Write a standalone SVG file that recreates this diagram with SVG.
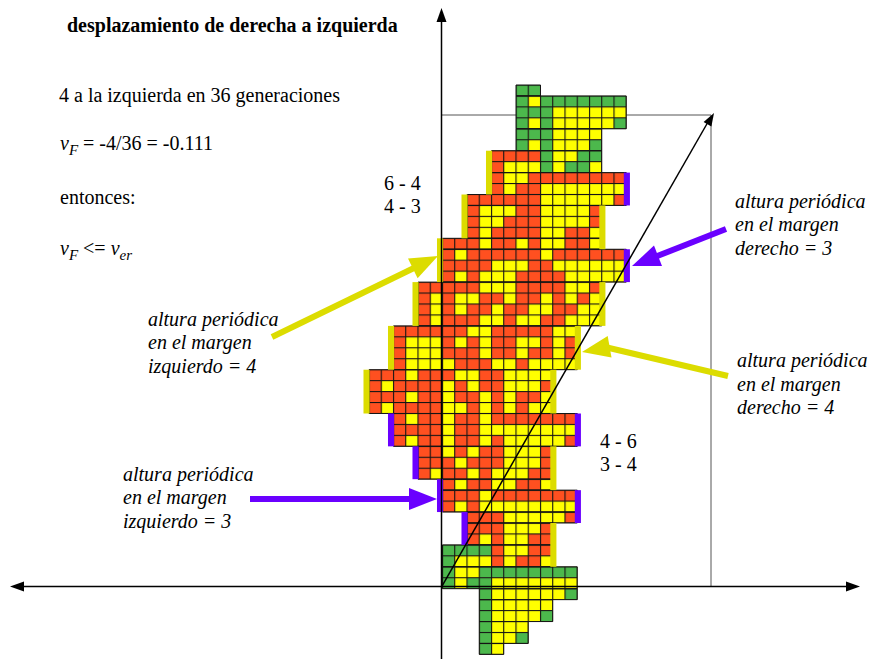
<svg xmlns="http://www.w3.org/2000/svg" xmlns:xlink="http://www.w3.org/1999/xlink" width="871" height="659" viewBox="0 0 871 659">
<style>
.t{font-family:"Liberation Serif","Times New Roman",serif;font-size:20px;fill:#000}
.b{font-weight:bold}
.i{font-style:italic}
.r{fill:#ff5020}
.y{fill:#ffff00}
.g{fill:#4cb84c}
.yb{fill:#dcdc00}
.pb{fill:#6a00ff}
#shape rect{vector-effect:non-scaling-stroke}
.ax{stroke:#000;stroke-width:1.5;fill:none}
</style>
<defs>
<pattern id="gp" patternUnits="userSpaceOnUse" x="-0.045" y="-0.05" width="1" height="1">
<rect width="1" height="0.1" fill="#151515"/><rect width="0.09" height="1" fill="#151515"/>
</pattern>
<g id="shape">
<rect x="6" y="0" width="2" height="1"/>
<rect x="6" y="1" width="9" height="3"/>
<rect x="6" y="4" width="7" height="2"/>
<rect x="4" y="6" width="9" height="2"/>
<rect x="4" y="8" width="11" height="2"/>
<rect x="2" y="10" width="13" height="1"/>
<rect x="2" y="11" width="11" height="3"/>
<rect x="0" y="14" width="13" height="1"/>
<rect x="0" y="15" width="15" height="3"/>
<rect x="-2" y="18" width="15" height="4"/>
<rect x="-4" y="22" width="15" height="4"/>
<rect x="-6" y="26" width="15" height="4"/>
<rect x="-4" y="30" width="15" height="3"/>
<rect x="-2" y="33" width="11" height="3"/>
<rect x="0" y="36" width="9" height="1"/>
<rect x="0" y="37" width="11" height="2"/>
<rect x="2" y="39" width="9" height="1"/>
<rect x="2" y="40" width="7" height="2"/>
<rect x="0" y="42" width="9" height="2"/>
<rect x="0" y="44" width="11" height="2"/>
<rect x="3" y="46" width="8" height="1"/>
<rect x="3" y="47" width="6" height="2"/>
<rect x="3" y="49" width="4" height="2"/>
<rect x="3" y="51" width="2" height="1"/>
</g>
</defs>
<rect width="871" height="659" fill="#fff"/>

<g id="box" fill="none" stroke="#555" stroke-width="1">
<polyline points="441.5,115 711,115 711,586.5"/>
</g>

<g id="cells" transform="translate(442.5 85) scale(12.25 10.95)">
<use xlink:href="#shape" class="r"/>
<g class="g">
<rect x="6" y="0" width="2" height="1"/>
<rect x="6" y="1" width="1" height="5"/>
<rect x="8" y="1" width="1" height="7"/>
<rect x="9" y="1" width="6" height="1"/>
<rect x="7" y="2" width="1" height="1"/>
<rect x="14" y="3" width="1" height="1"/>
<rect x="7" y="4" width="1" height="1"/>
<rect x="12" y="5" width="1" height="1"/>
<rect x="11" y="6" width="2" height="1"/>
<rect x="10" y="7" width="2" height="1"/>
<rect x="0" y="42" width="1" height="4"/>
<rect x="1" y="42" width="3" height="1"/>
<rect x="3" y="44" width="8" height="1"/>
<rect x="2" y="45" width="2" height="1"/>
<rect x="3" y="46" width="1" height="6"/>
<rect x="10" y="46" width="1" height="1"/>
<rect x="8" y="48" width="1" height="1"/>
<rect x="6" y="50" width="1" height="1"/>
</g>
<g class="y">
<rect x="7" y="1" width="1" height="1"/>
<rect x="9" y="2" width="6" height="1"/>
<rect x="7" y="3" width="1" height="1"/><rect x="9" y="3" width="5" height="1"/>
<rect x="9" y="4" width="4" height="1"/>
<rect x="7" y="5" width="1" height="1"/><rect x="9" y="5" width="3" height="1"/>
<rect x="9" y="6" width="2" height="1"/>
<rect x="5" y="7" width="3" height="1"/><rect x="9" y="7" width="1" height="1"/><rect x="12" y="7" width="1" height="1"/>
<rect x="5" y="8" width="2" height="1"/>
<rect x="5" y="9" width="1" height="1"/><rect x="8" y="9" width="7" height="1"/>
<rect x="8" y="10" width="6" height="1"/>
<rect x="3" y="11" width="3" height="1"/><rect x="8" y="11" width="4" height="1"/>
<rect x="3" y="12" width="2" height="1"/><rect x="8" y="12" width="4" height="1"/>
<rect x="3" y="13" width="1" height="1"/><rect x="8" y="13" width="2" height="1"/><rect x="12" y="13" width="1" height="1"/>
<rect x="3" y="14" width="1" height="1"/><rect x="6" y="14" width="1" height="1"/><rect x="8" y="14" width="2" height="1"/><rect x="12" y="14" width="1" height="1"/>
<rect x="1" y="15" width="1" height="1"/><rect x="8" y="15" width="1" height="1"/>
<rect x="4" y="16" width="3" height="1"/><rect x="9" y="16" width="6" height="1"/>
<rect x="1" y="17" width="1" height="1"/><rect x="3" y="17" width="3" height="1"/><rect x="10" y="17" width="5" height="1"/>
<rect x="3" y="18" width="3" height="1"/><rect x="10" y="18" width="2" height="1"/>
<rect x="-1" y="19" width="1" height="3"/><rect x="1" y="19" width="2" height="1"/><rect x="5" y="19" width="1" height="1"/><rect x="8" y="19" width="1" height="1"/><rect x="10" y="19" width="1" height="1"/><rect x="12" y="19" width="1" height="1"/>
<rect x="1" y="20" width="1" height="1"/><rect x="4" y="20" width="1" height="1"/><rect x="7" y="20" width="2" height="1"/><rect x="11" y="20" width="2" height="1"/>
<rect x="3" y="21" width="2" height="1"/><rect x="6" y="21" width="2" height="1"/><rect x="10" y="21" width="3" height="1"/>
<rect x="2" y="22" width="2" height="1"/><rect x="9" y="22" width="2" height="1"/>
<rect x="-3" y="23" width="3" height="2"/><rect x="1" y="23" width="1" height="1"/><rect x="3" y="23" width="1" height="2"/><rect x="6" y="23" width="2" height="1"/><rect x="9" y="23" width="1" height="2"/>
<rect x="6" y="24" width="1" height="1"/>
<rect x="-3" y="25" width="4" height="1"/><rect x="4" y="25" width="2" height="1"/><rect x="7" y="25" width="4" height="1"/>
<rect x="-3" y="26" width="1" height="1"/><rect x="1" y="26" width="2" height="1"/><rect x="5" y="26" width="4" height="1"/>
<rect x="-5" y="27" width="1" height="1"/><rect x="0" y="27" width="1" height="1"/><rect x="2" y="27" width="1" height="1"/><rect x="5" y="27" width="3" height="1"/>
<rect x="-3" y="28" width="1" height="1"/><rect x="0" y="28" width="1" height="1"/><rect x="3" y="28" width="1" height="1"/><rect x="5" y="28" width="1" height="1"/><rect x="8" y="28" width="1" height="1"/>
<rect x="-5" y="29" width="1" height="1"/><rect x="0" y="29" width="2" height="1"/><rect x="3" y="29" width="1" height="1"/><rect x="5" y="29" width="1" height="1"/><rect x="7" y="29" width="2" height="1"/>
<rect x="-3" y="30" width="1" height="1"/><rect x="0" y="30" width="1" height="4"/><rect x="3" y="30" width="1" height="1"/>
<rect x="3" y="31" width="8" height="1"/>
<rect x="-3" y="32" width="1" height="1"/><rect x="3" y="32" width="1" height="1"/><rect x="5" y="32" width="5" height="1"/>
<rect x="2" y="33" width="1" height="1"/><rect x="5" y="33" width="3" height="1"/>
<rect x="1" y="34" width="1" height="1"/><rect x="5" y="34" width="3" height="1"/>
<rect x="-1" y="35" width="1" height="1"/><rect x="2" y="35" width="1" height="1"/><rect x="4" y="35" width="3" height="1"/>
<rect x="1" y="36" width="1" height="1"/><rect x="4" y="36" width="2" height="1"/><rect x="8" y="36" width="1" height="1"/>
<rect x="3" y="37" width="1" height="1"/>
<rect x="1" y="38" width="1" height="1"/><rect x="3" y="38" width="8" height="1"/>
<rect x="5" y="39" width="5" height="1"/>
<rect x="5" y="40" width="3" height="1"/>
<rect x="3" y="41" width="1" height="1"/><rect x="5" y="41" width="2" height="1"/>
<rect x="5" y="42" width="2" height="1"/>
<rect x="1" y="43" width="3" height="1"/><rect x="5" y="43" width="1" height="1"/><rect x="8" y="43" width="1" height="1"/>
<rect x="1" y="44" width="2" height="1"/>
<rect x="1" y="45" width="1" height="1"/><rect x="4" y="45" width="7" height="1"/>
<rect x="4" y="46" width="6" height="1"/>
<rect x="4" y="47" width="5" height="1"/>
<rect x="4" y="48" width="4" height="1"/>
<rect x="4" y="49" width="3" height="1"/>
<rect x="4" y="50" width="2" height="1"/>
<rect x="4" y="51" width="1" height="1"/>
</g>
<use xlink:href="#shape" fill="url(#gp)" stroke="#151515" stroke-width="1"/>
<g id="bars">
<rect class="yb" x="3.55" y="6" width="0.5" height="4"/>
<rect class="yb" x="1.55" y="10" width="0.5" height="4"/>
<rect class="yb" x="-0.45" y="14" width="0.5" height="4"/>
<rect class="yb" x="-2.45" y="18" width="0.5" height="4"/>
<rect class="yb" x="-4.45" y="22" width="0.5" height="4"/>
<rect class="yb" x="-6.45" y="26" width="0.5" height="4"/>
<rect class="pb" x="-4.45" y="30" width="0.5" height="3"/>
<rect class="pb" x="-2.45" y="33" width="0.5" height="3"/>
<rect class="pb" x="-0.45" y="36" width="0.5" height="3"/>
<rect class="pb" x="1.55" y="39" width="0.5" height="3"/>
<rect class="pb" x="14.8" y="8" width="0.5" height="3"/>
<rect class="yb" x="12.8" y="11" width="0.5" height="4"/>
<rect class="pb" x="14.8" y="15" width="0.5" height="3"/>
<rect class="yb" x="12.8" y="18" width="0.5" height="4"/>
<rect class="yb" x="10.8" y="22" width="0.5" height="4"/>
<rect class="yb" x="8.8" y="26" width="0.5" height="4"/>
<rect class="pb" x="10.8" y="30" width="0.5" height="3"/>
<rect class="yb" x="8.8" y="33" width="0.5" height="4"/>
<rect class="pb" x="10.8" y="37" width="0.5" height="3"/>
<rect class="yb" x="8.8" y="40" width="0.5" height="4"/>
</g>
</g>

<g id="axes">
<line class="ax" x1="16" y1="586.5" x2="854" y2="586.5"/>
<line class="ax" x1="441.5" y1="659" x2="441.5" y2="16"/>
<polygon points="10,586.5 24,581.5 24,591.5"/>
<polygon points="860,586.5 846,581.5 846,591.5"/>
<polygon points="441.5,8 436.5,22 446.5,22"/>
<line class="ax" x1="441.7" y1="586.7" x2="708" y2="122"/>
<polygon points="714,113 711.4,126.5 703.6,122.1"/>
</g>

<g id="connectors">
<line x1="272" y1="337" x2="414" y2="268" stroke="#dcdc00" stroke-width="6"/>
<polygon points="438,256 417.6,278.2 408,258.4" class="yb"/>
<line x1="726" y1="229" x2="656" y2="256.5" stroke="#6a00ff" stroke-width="6"/>
<polygon points="632,266 662,266 654,245.6" class="pb"/>
<line x1="728" y1="376" x2="607" y2="347.5" stroke="#dcdc00" stroke-width="6"/>
<polygon points="582,352 611.5,357.5 607.7,336" class="yb"/>
<line x1="250" y1="499" x2="412" y2="499" stroke="#6a00ff" stroke-width="6"/>
<polygon points="437,499 409,488 409,510" class="pb"/>
</g>

<g id="texts">
<text class="t b" x="67" y="32" font-size="20.4">desplazamiento de derecha a izquierda</text>
<text class="t" x="59" y="102" font-size="20.2">4 a la izquierda en 36 generaciones</text>
<text class="t" x="60" y="150"><tspan class="i">v</tspan><tspan class="i" font-size="15" dy="5">F</tspan><tspan dy="-5"> = -4/36 = -0.111</tspan></text>
<text class="t" x="60" y="204">entonces:</text>
<text class="t" x="60" y="255"><tspan class="i">v</tspan><tspan class="i" font-size="15" dy="5">F</tspan><tspan dy="-5"> &lt;= </tspan><tspan class="i">v</tspan><tspan class="i" font-size="15" dy="5">er</tspan></text>
<text class="t" x="384" y="190">6 - 4</text>
<text class="t" x="384" y="213">4 - 3</text>
<text class="t" x="600" y="448">4 - 6</text>
<text class="t" x="600" y="471">3 - 4</text>
<g id="label-der3"><text class="t i" x="735" y="208">altura periódica</text><text class="t i" x="735" y="231">en el margen</text><text class="t i" x="735" y="255">derecho = 3</text></g>
<g id="label-izq4"><text class="t i" x="148" y="326">altura periódica</text><text class="t i" x="148" y="349">en el margen</text><text class="t i" x="148" y="373">izquierdo = 4</text></g>
<g id="label-der4"><text class="t i" x="737" y="367">altura periódica</text><text class="t i" x="737" y="391">en el margen</text><text class="t i" x="737" y="414">derecho = 4</text></g>
<g id="label-izq3"><text class="t i" x="123" y="481">altura periódica</text><text class="t i" x="123" y="504">en el margen</text><text class="t i" x="123" y="528">izquierdo = 3</text></g>
</g>
</svg>
